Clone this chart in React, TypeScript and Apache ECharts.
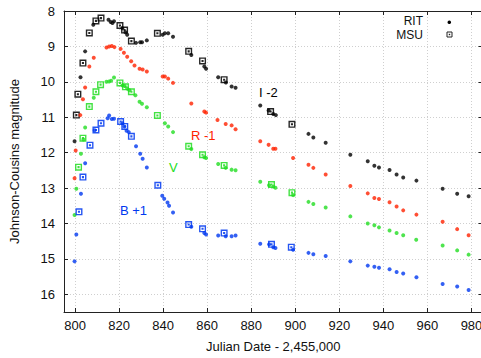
import React, { useEffect, useRef } from "react";
import * as echarts from "echarts";

// [Julian Date - 2,455,000, plotted magnitude]
const I_RIT: [number, number][] = [
  [799.8, 11.68], [802.5, 9.87], [804.6, 9.14], [808.3, 8.39], [815.2, 8.25], [816.2, 8.31],
  [817.0, 8.34], [817.7, 8.29], [821.5, 8.49], [822.9, 8.6], [823.7, 8.67], [827.7, 8.9],
  [829.6, 8.88], [830.4, 8.88], [832.6, 8.83], [839.8, 8.67], [840.8, 8.63], [842.3, 8.63],
  [844.5, 8.73], [852.8, 9.24], [858.7, 9.57], [859.5, 9.63], [865.0, 9.87], [868.5, 10.02],
  [871.1, 10.13], [872.9, 10.17], [884.1, 10.67], [887.9, 10.81], [890.0, 10.91], [891.2, 10.94],
  [906.0, 11.47], [908.2, 11.57], [913.8, 11.72], [925.0, 12.06], [932.9, 12.24], [935.9, 12.37],
  [938.0, 12.42], [942.8, 12.49], [946.0, 12.62], [949.0, 12.7], [955.0, 12.79], [966.9, 13.02],
  [973.5, 13.16], [978.7, 13.23],
];
const I_MSU: [number, number][] = [
  [800.6, 10.94], [801.3, 10.35], [803.6, 9.47], [806.5, 8.62], [809.5, 8.28], [811.8, 8.2],
  [820.4, 8.41], [822.5, 8.54], [825.6, 8.85], [837.4, 8.63], [851.6, 9.14], [857.9, 9.41],
  [867.7, 9.94], [888.8, 10.84], [898.5, 11.2],
];
const R_RIT: [number, number][] = [
  [799.8, 12.72], [800.3, 11.94], [802.4, 10.94], [803.6, 10.49], [804.6, 10.16], [806.5, 9.57],
  [808.5, 9.32], [814.3, 9.03], [815.5, 9.0], [816.7, 8.99], [817.9, 9.02], [820.7, 9.07],
  [822.2, 9.18], [823.7, 9.29], [825.5, 9.42], [827.0, 9.54], [829.3, 9.63], [830.7, 9.65],
  [832.6, 9.71], [839.8, 9.85], [840.8, 9.85], [842.3, 9.91], [844.5, 10.03], [852.8, 10.61],
  [858.7, 10.84], [859.5, 10.87], [864.7, 11.08], [868.4, 11.19], [871.1, 11.23], [872.9, 11.34],
  [884.1, 11.68], [887.9, 11.78], [890.0, 11.89], [891.0, 11.89], [899.0, 12.15], [906.0, 12.34],
  [908.2, 12.43], [913.8, 12.62], [925.0, 12.94], [932.9, 13.15], [935.9, 13.28], [938.0, 13.31],
  [942.8, 13.4], [946.0, 13.52], [949.0, 13.63], [955.0, 13.75], [966.9, 13.95], [973.5, 14.16],
  [978.7, 14.33],
];
const V_RIT: [number, number][] = [
  [799.8, 13.76], [800.6, 13.02], [802.7, 12.03], [803.8, 11.63], [804.6, 11.29], [808.5, 10.45],
  [814.3, 10.0], [815.5, 9.99], [816.4, 9.97], [817.7, 9.88], [821.5, 10.1], [822.5, 10.12],
  [823.7, 10.19], [824.7, 10.24], [827.4, 10.38], [829.3, 10.56], [830.4, 10.62], [832.6, 10.72],
  [840.8, 11.17], [842.3, 11.26], [844.5, 11.42], [852.8, 11.9], [858.7, 12.13], [859.5, 12.15],
  [865.0, 12.32], [868.4, 12.43], [871.1, 12.48], [872.9, 12.5], [884.1, 12.82], [888.1, 12.92],
  [890.0, 12.96], [891.0, 12.99], [899.0, 13.2], [906.0, 13.39], [908.2, 13.45], [913.8, 13.55],
  [925.0, 13.8], [932.9, 14.0], [935.9, 14.05], [938.0, 14.11], [942.8, 14.2], [946.0, 14.27],
  [949.0, 14.33], [954.9, 14.46], [966.9, 14.62], [973.5, 14.76], [978.7, 14.88],
];
const V_MSU: [number, number][] = [
  [801.6, 12.41], [803.6, 11.59], [806.5, 10.7], [809.5, 10.28], [811.6, 10.08], [820.4, 10.03],
  [822.9, 10.14], [825.6, 10.28], [837.4, 10.95], [851.6, 11.82], [857.9, 12.06], [867.7, 12.36],
  [889.2, 12.9], [898.5, 13.13],
];
const B_RIT: [number, number][] = [
  [799.8, 15.07], [800.6, 14.31], [802.7, 13.16], [804.6, 12.3], [808.9, 11.37], [814.8, 11.03],
  [815.5, 10.95], [816.7, 11.05], [817.7, 11.04], [821.5, 11.17], [822.4, 11.26], [823.4, 11.38],
  [824.4, 11.42], [827.7, 11.82], [829.6, 12.03], [830.7, 12.17], [832.6, 12.42], [839.6, 13.22],
  [840.5, 13.3], [842.0, 13.41], [842.7, 13.5], [844.5, 13.69], [852.8, 14.09], [858.7, 14.27],
  [859.5, 14.31], [865.0, 14.34], [868.4, 14.36], [871.1, 14.36], [872.9, 14.34], [884.1, 14.57],
  [888.1, 14.59], [890.0, 14.67], [891.0, 14.69], [899.0, 14.74], [906.0, 14.83], [908.2, 14.87],
  [913.8, 14.92], [925.0, 15.07], [932.9, 15.19], [935.9, 15.22], [938.0, 15.25], [942.8, 15.29],
  [946.0, 15.37], [949.0, 15.41], [955.0, 15.52], [966.9, 15.71], [973.5, 15.78], [978.7, 15.88],
];
const B_MSU: [number, number][] = [
  [801.8, 13.67], [803.6, 12.69], [806.8, 11.79], [809.5, 11.36], [811.8, 11.17], [820.7, 11.12],
  [822.6, 11.26], [825.6, 11.54], [837.6, 12.92], [851.6, 14.03], [857.9, 14.15], [867.7, 14.27],
  [889.2, 14.59], [898.2, 14.67],
];

const X_TICKS = [800, 820, 840, 860, 880, 900, 920, 940, 960, 980];
const Y_TICKS = [8, 9, 10, 11, 12, 13, 14, 15, 16];

const BAND_LABELS = ["I -2", "R -1", "V", "B +1"];
const COLORS = { I: "#000000", R: "#ff2200", V: "#22dd22", B: "#0038f0" };

const SQUARE = "path://M0,0H10V10H0Z M2,2V8H8V2Z M3.5,3.5H6.5V6.5H3.5Z";
const FONT = "'Liberation Sans', Arial, Helvetica, sans-serif";

export default function App() {
  const ref = useRef<HTMLDivElement>(null);
  useEffect(() => {
    if (!ref.current) return;
    const chart = echarts.init(ref.current, null, { renderer: "svg" });
    const dot = (name: string, data: [number, number][], color: string) => ({
      name,
      type: "scatter",
      data,
      symbol: "circle",
      symbolSize: 4,
      itemStyle: { color },
      xAxisIndex: 0,
      yAxisIndex: 0,
    });
    const sq = (name: string, data: [number, number][], color: string) => ({
      name,
      type: "scatter",
      data,
      symbol: SQUARE,
      symbolSize: 7,
      itemStyle: { color, opacity: 0.85 },
      xAxisIndex: 0,
      yAxisIndex: 0,
    });
    const axisLine = { show: true, lineStyle: { color: "#222", width: 1 } };
    const tick = { show: true, inside: true, length: 4, lineStyle: { color: "#222" } };
    const fmtX = (v: number) => (X_TICKS.includes(v) ? String(v) : "");
    const fmtY = (v: number) => (Y_TICKS.includes(v) ? String(v) : "");
    const legendText = (text: string, y: number) => ({
      type: "text",
      x: 423,
      y,
      style: { text, fill: "#111", font: `12px ${FONT}`, lineHeight: 12, align: "right", verticalAlign: "middle" },
    });
    chart.setOption({
      animation: false,
      grid: { left: 57.5, top: 11, width: 425, height: 304, containLabel: false },
      xAxis: [
        {
          type: "value",
          min: 795,
          max: 985,
          minInterval: 20,
          maxInterval: 20,
          position: "bottom",
          name: "Julian Date - 2,455,000",
          nameLocation: "middle",
          nameGap: 28,
          nameTextStyle: { fontFamily: FONT, fontSize: 13, color: "#111" },
          axisLine,
          axisTick: tick,
          axisLabel: { formatter: fmtX, fontFamily: FONT, fontSize: 13, color: "#111", margin: 7 },
          splitLine: { show: true, lineStyle: { color: "#cfcfcf", type: [1, 2], width: 1 } },
        },
        {
          type: "value",
          min: 795,
          max: 985,
          minInterval: 20,
          maxInterval: 20,
          position: "top",
          axisLine,
          axisTick: tick,
          axisLabel: { show: false },
          splitLine: { show: false },
        },
      ],
      yAxis: [
        {
          type: "value",
          inverse: true,
          min: 8,
          max: 16.5,
          interval: 1,
          position: "left",
          name: "Johnson-Cousins magnitude",
          nameLocation: "middle",
          nameGap: 43,
          nameTextStyle: { fontFamily: FONT, fontSize: 13, color: "#111" },
          axisLine,
          axisTick: tick,
          axisLabel: { formatter: fmtY, fontFamily: FONT, fontSize: 13, color: "#111", margin: 9 },
          splitLine: { show: true, lineStyle: { color: "#cfcfcf", type: [1, 2], width: 1 } },
        },
        {
          type: "value",
          inverse: true,
          min: 8,
          max: 16.5,
          interval: 1,
          position: "right",
          axisLine,
          axisTick: tick,
          axisLabel: { show: false },
          splitLine: { show: false },
        },
      ],
      series: [
        dot("I RIT", I_RIT, COLORS.I),
        sq("I MSU", I_MSU, COLORS.I),
        dot("R RIT", R_RIT, COLORS.R),
        dot("V RIT", V_RIT, COLORS.V),
        sq("V MSU", V_MSU, COLORS.V),
        dot("B RIT", B_RIT, COLORS.B),
        sq("B MSU", B_MSU, COLORS.B),
      ],
      graphic: [
        { type: "text", left: 259, top: 86, style: { text: BAND_LABELS[0], fill: COLORS.I, font: `13px ${FONT}` } },
        { type: "text", left: 191, top: 129, style: { text: BAND_LABELS[1], fill: COLORS.R, font: `13px ${FONT}` } },
        { type: "text", left: 169, top: 161, style: { text: BAND_LABELS[2], fill: COLORS.V, font: `13px ${FONT}` } },
        { type: "text", left: 120, top: 204, style: { text: BAND_LABELS[3], fill: COLORS.B, font: `13px ${FONT}` } },
        legendText("RIT", 21.3),
        legendText("MSU", 34.5),
        { type: "circle", shape: { cx: 449.3, cy: 22.3, r: 1.8 }, style: { fill: "#000" } },
        { type: "rect", shape: { x: 447, y: 32, width: 5, height: 5 }, style: { fill: "none", stroke: "#222", lineWidth: 1 } },
        { type: "rect", shape: { x: 448.8, y: 33.8, width: 1.4, height: 1.4 }, style: { fill: "#222" } },
      ],
    });
    return () => chart.dispose();
  }, []);
  return (
    <div style={{ position: "fixed", left: 0, top: 0, width: 481, height: 358, overflow: "hidden", background: "#fff" }}>
      <div ref={ref} style={{ width: 490, height: 358 }} />
    </div>
  );
}
